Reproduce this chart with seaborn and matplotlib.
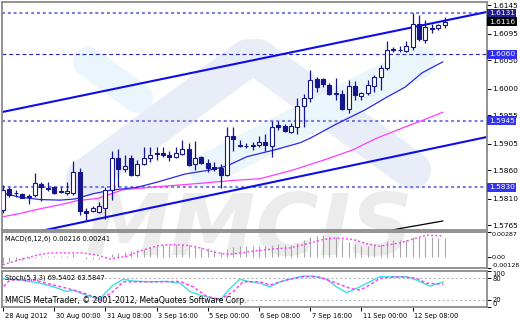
import numpy as np
import matplotlib
matplotlib.use("Agg")
import matplotlib.pyplot as plt
import matplotlib.transforms as mtransforms
import seaborn as sns

# ---------------- data ----------------
opens = [1.5791, 1.5827, 1.5821, 1.5818, 1.5815, 1.5816, 1.5836, 1.5829, 1.5831, 1.5824,
         1.5820, 1.5820, 1.5857, 1.5789, 1.5789, 1.5788, 1.5794, 1.5826, 1.5880, 1.5861,
         1.5881, 1.5851, 1.5870, 1.5881, 1.5890, 1.5890, 1.5886, 1.5883, 1.5887, 1.5896,
         1.5870, 1.5883, 1.5872, 1.5866, 1.5864, 1.5851, 1.5918, 1.5903, 1.5902, 1.5902,
         1.5903, 1.5909, 1.5902, 1.5938, 1.5936, 1.5926, 1.5935, 1.5971, 1.5984, 1.6017,
         1.6017, 1.6007, 1.5993, 1.5992, 1.5965, 1.6005, 1.5987, 1.5993, 1.6005, 1.6020,
         1.6036, 1.6069, 1.6068, 1.6066, 1.6073, 1.6112, 1.6085, 1.6105, 1.6106, 1.6110]
highs = [1.5834, 1.5830, 1.5826, 1.5820, 1.5818, 1.5854, 1.5840, 1.5840, 1.5832, 1.5831,
         1.5840, 1.5876, 1.5863, 1.5794, 1.5797, 1.5804, 1.5831, 1.5892, 1.5897, 1.5886,
         1.5886, 1.5877, 1.5899, 1.5899, 1.5899, 1.5900, 1.5892, 1.5900, 1.5912, 1.5906,
         1.5910, 1.5884, 1.5879, 1.5873, 1.5870, 1.5935, 1.5935, 1.5911, 1.5906, 1.5909,
         1.5918, 1.5922, 1.5944, 1.5944, 1.5940, 1.5941, 1.5984, 1.5991, 1.6033, 1.6021,
         1.6019, 1.6010, 1.6019, 1.5998, 1.6015, 1.6013, 1.5995, 1.6016, 1.6024, 1.6041,
         1.6083, 1.6073, 1.6074, 1.6082, 1.6131, 1.6128, 1.6119, 1.6112, 1.6113, 1.6125]
lows = [1.5786, 1.5814, 1.5814, 1.5811, 1.5801, 1.5814, 1.5807, 1.5823, 1.5819, 1.5820,
        1.5817, 1.5817, 1.5783, 1.5774, 1.5787, 1.5786, 1.5775, 1.5808, 1.5831, 1.5857,
        1.5850, 1.5849, 1.5869, 1.5874, 1.5877, 1.5883, 1.5876, 1.5880, 1.5886, 1.5867,
        1.5860, 1.5870, 1.5856, 1.5859, 1.5829, 1.5850, 1.5893, 1.5899, 1.5898, 1.5895,
        1.5900, 1.5892, 1.5883, 1.5929, 1.5926, 1.5924, 1.5922, 1.5935, 1.5978, 1.5995,
        1.6004, 1.5990, 1.5981, 1.5964, 1.5958, 1.5981, 1.5981, 1.5990, 1.5995, 1.5998,
        1.6032, 1.6064, 1.6064, 1.6063, 1.6067, 1.6082, 1.6080, 1.6096, 1.6102, 1.6105]
closes = [1.5826, 1.5816, 1.5820, 1.5812, 1.5814, 1.5837, 1.5831, 1.5828, 1.5821, 1.5822,
          1.5823, 1.5857, 1.5790, 1.5785, 1.5795, 1.5798, 1.5826, 1.5880, 1.5862, 1.5867,
          1.5851, 1.5870, 1.5881, 1.5886, 1.5888, 1.5886, 1.5883, 1.5890, 1.5896, 1.5869,
          1.5881, 1.5872, 1.5863, 1.5862, 1.5851, 1.5918, 1.5914, 1.5902, 1.5901, 1.5902,
          1.5909, 1.5903, 1.5935, 1.5934, 1.5928, 1.5936, 1.5971, 1.5984, 1.6016, 1.6004,
          1.6008, 1.5992, 1.5992, 1.5965, 1.6005, 1.5990, 1.5993, 1.6007, 1.6021, 1.6036,
          1.6067, 1.6068, 1.6067, 1.6074, 1.6112, 1.6086, 1.6107, 1.6104, 1.6110, 1.6116]

# moving averages (bar index, price)
ma_blue_idx = [0, 2.66, 5.78, 8.9, 11.25, 14.06, 16.7, 20.9, 24.06, 28.4, 32.3, 35.0,
               38.1, 42.5, 46.4, 48.0, 52.2, 56.6, 60.0, 62.8, 65.5, 68.75]
ma_blue_val = [1.5820, 1.5813, 1.5809, 1.5808, 1.5810, 1.5819, 1.5825, 1.5830, 1.5839,
               1.5853, 1.5860, 1.5867, 1.5883, 1.5895, 1.5907, 1.5915, 1.5940, 1.5964,
               1.5986, 1.6003, 1.6028, 1.6047]
ma_pink_idx = [-0.16, 2.66, 5.78, 8.9, 11.56, 14.84, 18.75, 24.06, 30.8, 35.9, 40.2,
               45.3, 50.6, 54.7, 58.4, 62.5, 65.6, 68.75]
ma_pink_val = [1.5779, 1.5785, 1.5793, 1.5800, 1.5807, 1.5811, 1.5826, 1.5831, 1.5837,
               1.5842, 1.5845, 1.5860, 1.5879, 1.5895, 1.5915, 1.5933, 1.5946, 1.5960]
ma_black_idx = [60.0, 61.56, 68.75]
ma_black_val = [1.5754, 1.5758, 1.5772]

# channel lines (bar index, price)
trend_upper_idx = [-0.2, 75.6]
trend_upper_val = [1.5960, 1.6133]
trend_lower_idx = [6.0, 75.6]
trend_lower_val = [1.5755, 1.5917]

levels = [1.6131, 1.6060, 1.5945, 1.5830]
box_values = [1.6131, 1.6116, 1.6060, 1.5945, 1.5830]
price_ticks = [1.6145, 1.6095, 1.6050, 1.6000, 1.5955, 1.5905, 1.5860, 1.5810, 1.5765]

# MACD
macd_hist = [-0.00070, -0.00055, -0.00045, -0.00035, -0.00030, -0.00010, 0.00005, 0.00010, 0.00010, 0.00010,
             0.00010, 0.00030, 0.00000, -0.00020, -0.00030, -0.00030, -0.00015, 0.00030, 0.00050, 0.00060,
             0.00065, 0.00075, 0.00095, 0.00115, 0.00130, 0.00140, 0.00140, 0.00145, 0.00150, 0.00135,
             0.00130, 0.00115, 0.00100, 0.00085, 0.00060, 0.00095, 0.00110, 0.00120, 0.00125, 0.00125,
             0.00130, 0.00125, 0.00140, 0.00145, 0.00140, 0.00135, 0.00160, 0.00190, 0.00235, 0.00245,
             0.00255, 0.00240, 0.00230, 0.00190, 0.00175, 0.00150, 0.00130, 0.00125, 0.00135, 0.00150,
             0.00185, 0.00195, 0.00195, 0.00195, 0.00230, 0.00225, 0.00230, 0.00225, 0.00220, 0.00216]
macd_sig_idx = [0, 2.66, 5.3, 7.3, 12.5, 15.2, 16.7, 19.4, 21.4, 24.1, 26.1, 28.8, 30.8, 32.8,
                35.0, 37.5, 39.1, 42.2, 44.8, 47.5, 50.0, 52.2, 54.7, 56.9, 58.9, 62.0, 64.7,
                66.3, 68.75]
macd_sig_val = [-0.00092, -0.00031, 0.00020, 0.00046, 0.00046, 0.00012, -0.00023, 0.00008,
                0.00069, 0.00127, 0.00142, 0.00135, 0.00104, 0.00058, 0.00027, 0.00050,
                0.00066, 0.00092, 0.00104, 0.00150, 0.00200, 0.00219, 0.00200, 0.00150,
                0.00123, 0.00161, 0.00219, 0.00250, 0.00241]
macd_ticks = [0.00287, 0.0, -0.00128]
macd_tick_labels = ["0.00287", "0.00", "-0.00128"]

# Stochastic
stoch_main_idx = [0.05, 2.7, 5.8, 7.9, 10.0, 11.0, 12.5, 13.6, 15.2, 16.2, 17.2, 18.8, 20.4,
                  23.0, 25.6, 27.7, 29.2, 30.8, 32.9, 33.9, 35.5, 37.0, 38.6, 40.2, 41.7,
                  43.3, 45.4, 46.9, 48.5, 50.6, 52.1, 53.7, 55.3, 57.3, 58.9, 61.0, 63.1,
                  64.6, 66.7, 68.8]
stoch_main_val = [78, 75, 66, 56, 43, 47, 36, 29, 23, 43, 61, 77, 72, 70, 71, 66, 43, 33,
                  24, 19, 52, 77, 70, 66, 56, 70, 80, 86, 86, 77, 56, 40, 52, 70, 84, 84,
                  84, 75, 58, 69.5]
stoch_sig_idx = [-0.5, 1.1, 4.7, 10.0, 13.1, 15.2, 17.2, 18.8, 23.0, 27.7, 29.7, 31.8, 33.9,
                 36.0, 37.5, 40.2, 41.7, 44.3, 46.9, 49.5, 52.1, 54.2, 55.8, 57.3, 58.9,
                 62.0, 64.6, 66.2, 68.8]
stoch_sig_val = [47, 75, 75, 52, 36, 19, 43, 70, 70, 71, 56, 30, 21, 43, 70, 70, 61, 75, 84,
                 83, 66, 52, 47, 61, 80, 84, 80, 66, 63.6]
stoch_levels = [80, 20]
stoch_ticks = [100, 80, 20, 0]

x_tick_pos = [0, 8, 16, 24, 32, 40, 48, 56, 64]
x_tick_labels = ["28 Aug 2012", "30 Aug 00:00", "31 Aug 08:00", "3 Sep 16:00", "5 Sep 00:00",
                 "6 Sep 08:00", "7 Sep 16:00", "11 Sep 00:00", "12 Sep 08:00"]

macd_title = "MACD(6,12,6) 0.00216 0.00241"
stoch_title = "Stoch(5,3,3) 69.5402 63.5847"
copyright_text = "MMCIS MetaTrader, \u00a9 2001-2012, MetaQuotes Software Corp."

# ---------------- drawing ----------------
sns.set_theme(style="white")
plt.rcParams["font.family"] = ["DejaVu Sans"]

W, H = 520, 320
fig = plt.figure(figsize=(5.2, 3.2), dpi=100, facecolor="white")


def rect(x0, y0, x1, y1):
    return [x0 / W, 1 - y1 / H, (x1 - x0) / W, (y1 - y0) / H]


ax = fig.add_axes(rect(2, 2, 487, 230))
axm = fig.add_axes(rect(2, 232, 487, 268), sharex=ax)
axs = fig.add_axes(rect(2, 271, 487, 307), sharex=ax)

navy = "#16168c"

for a in (ax, axm, axs):
    a.set_facecolor("none")
    for sp in a.spines.values():
        sp.set_color("#8a8a8a")
        sp.set_linewidth(1.3)
    a.yaxis.tick_right()
    a.tick_params(axis="y", which="both", right=True, left=False, labelright=True,
                  labelleft=False, length=3, width=0.7, pad=1.0, labelsize=5.3,
                  colors="black")
    a.tick_params(axis="x", bottom=False, labelbottom=False)
    a.grid(False)
axm.tick_params(axis="y", labelsize=4.55, pad=0.4)
axs.tick_params(axis="y", labelsize=4.9)

# watermark (decoration)
fig.text(0.478, 0.275, "MMCIS", fontsize=62, fontweight="bold", style="italic",
         color="#ececec", ha="center", va="center", zorder=-5)


def px2ax(x, y):
    return ((x - 2) / 485, (230 - y) / 228)


for p0, p1, w, col in [((88, 62), (138, 98), 30, "#eaf5fc"),
                       ((85, 178), (248, 58), 38, "#e9edf8"),
                       ((258, 58), (412, 170), 38, "#e9edf8"),
                       ((205, 170), (420, 62), 32, "#eaf5fc")]:
    a0, a1 = px2ax(*p0), px2ax(*p1)
    ax.plot([a0[0], a1[0]], [a0[1], a1[1]], transform=ax.transAxes, lw=w * 0.72,
            color=col, solid_capstyle="round", zorder=0.2)

idx = np.arange(len(opens))
o = np.array(opens)
c = np.array(closes)
bull = c >= o

# horizontal levels
level_colors = ["#7b7be2", "#2424c8", "#7b7be2", "#7b7be2"]
level_widths = [1.5, 0.8, 1.5, 1.5]
level_dash = [(0, (1.4, 1.4)), (0, (3.5, 2.5)), (0, (1.4, 1.4)), (0, (1.4, 1.4))]
for v, col, lw, ls in zip(levels, level_colors, level_widths, level_dash):
    ax.axhline(v, color=col, lw=lw, linestyle=ls, zorder=1)

# channel
sns.lineplot(x=trend_upper_idx, y=trend_upper_val, ax=ax, color="#0d0de8", lw=1.5, zorder=2)
sns.lineplot(x=trend_lower_idx, y=trend_lower_val, ax=ax, color="#0d0de8", lw=1.5, zorder=2)

# moving averages
sns.lineplot(x=ma_pink_idx, y=ma_pink_val, ax=ax, color="#ff3cff", lw=0.9, zorder=2)
sns.lineplot(x=ma_blue_idx, y=ma_blue_val, ax=ax, color="#2a2ae6", lw=0.9, zorder=2)
sns.lineplot(x=ma_black_idx, y=ma_black_val, ax=ax, color="#000000", lw=0.9, zorder=2)

# candles
ax.vlines(idx, lows, highs, color=navy, lw=0.9, zorder=3)
bottoms = np.minimum(o, c)
heights = np.maximum(np.abs(c - o), 0.00004)
ax.bar(idx, heights, bottom=bottoms, width=0.62, color=np.where(bull, "white", navy),
       edgecolor=navy, linewidth=0.8, zorder=4)

ax.set_xlim(-0.16, 75.63)
ax.set_ylim(1.57564, 1.61502)
ax.set_yticks(price_ticks)
ax.set_yticklabels([f"{v:.4f}" for v in price_ticks])

trans = mtransforms.blended_transform_factory(ax.transAxes, ax.transData)
box_colors = ["#1e1e8e", "#000000", "#2f2ff0", "#3434ee", "#3434ee"]
for v, fc in zip(box_values, box_colors):
    ax.text(1.004, v, f"{v:.4f}", transform=trans, ha="left", va="center", fontsize=5.4,
            color="white", bbox=dict(boxstyle="square,pad=0.2", fc=fc, ec="none"),
            clip_on=False, zorder=10)

# MACD panel
axm.vlines(idx, 0, macd_hist, color="#a6a6a6", lw=0.8, zorder=2)
sns.lineplot(x=macd_sig_idx, y=macd_sig_val, ax=axm, color="#ff33ff", lw=1.0,
             linestyle=(0, (1.3, 1.7)), zorder=3)
axm.set_ylim(-0.00128, 0.00287)
axm.set_yticks(macd_ticks)
axm.set_yticklabels(macd_tick_labels)
tl = axm.get_yticklabels()
tl[0].set_verticalalignment("top")
tl[2].set_verticalalignment("bottom")
axm.text(0.006, 0.80, macd_title, transform=axm.transAxes, fontsize=4.8, va="center",
         ha="left", color="black", zorder=5)

# Stochastic panel
for lv in stoch_levels:
    axs.axhline(lv, color="#b8b8b8", lw=0.8, linestyle=(0, (2, 2)), zorder=1)
sns.lineplot(x=stoch_main_idx, y=stoch_main_val, ax=axs, color="#3ee0e0", lw=1.0, zorder=3)
sns.lineplot(x=stoch_sig_idx, y=stoch_sig_val, ax=axs, color="#ff33ff", lw=1.0,
             linestyle=(0, (2.2, 1.6)), zorder=3)
axs.set_ylim(0, 100)
axs.set_yticks(stoch_ticks)
axs.set_yticklabels([str(v) for v in stoch_ticks])
tl = axs.get_yticklabels()
tl[0].set_verticalalignment("top")
tl[3].set_verticalalignment("bottom")
axs.text(0.006, 0.80, stoch_title, transform=axs.transAxes, fontsize=4.8, va="center",
         ha="left", color="black", zorder=5)
axs.text(0.006, 0.19, copyright_text, transform=axs.transAxes, fontsize=5.6, va="center",
         ha="left", color="black", zorder=5)

axs.set_xticks(x_tick_pos)
axs.set_xticklabels(x_tick_labels)
axs.tick_params(axis="x", bottom=True, labelbottom=True, length=3, width=0.7, pad=1.5,
                labelsize=4.8, colors="black", direction="out")
offset = mtransforms.ScaledTranslation(1.5 / 100, 0, fig.dpi_scale_trans)
for lbl in axs.get_xticklabels():
    lbl.set_horizontalalignment("left")
    lbl.set_transform(lbl.get_transform() + offset)

for a in (ax, axm, axs):
    a.set_xlabel("")
    a.set_ylabel("")
ax.set_xlim(-0.16, 75.63)

fig.savefig("out.png", dpi=100, facecolor="white")
